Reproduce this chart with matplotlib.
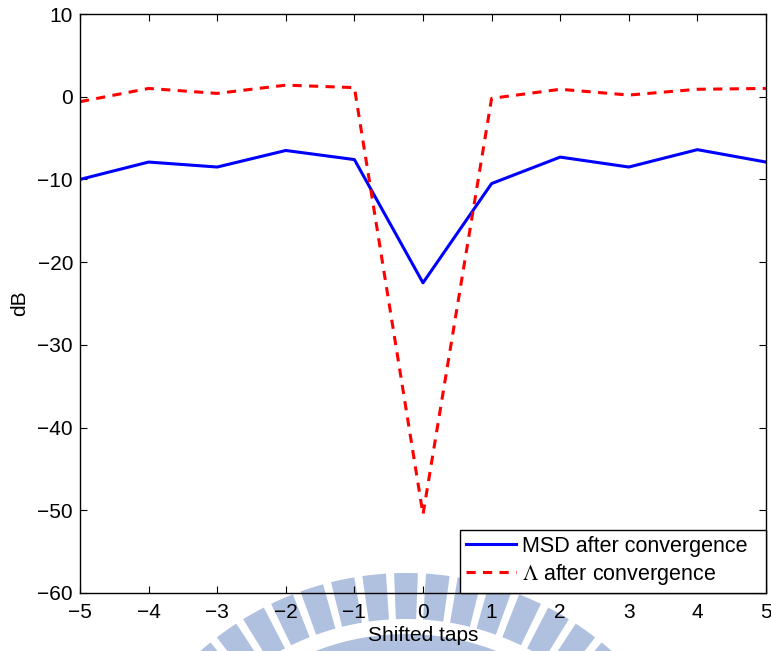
import numpy as np
import matplotlib
matplotlib.use("Agg")
import matplotlib.pyplot as plt
from matplotlib.patches import Wedge

plt.rcParams['font.family'] = ['Liberation Sans', 'DejaVu Sans']
plt.rcParams['mathtext.fontset'] = 'stix'

# ---- data ----
shifted_taps = [-5, -4, -3, -2, -1, 0, 1, 2, 3, 4, 5]
msd_db = [-10.0, -7.9, -8.5, -6.5, -7.6, -22.5, -10.5, -7.3, -8.5, -6.4, -7.9]
lambda_db = [-0.6, 1.0, 0.4, 1.4, 1.1, -50.5, -0.2, 0.9, 0.2, 0.9, 1.0]
x_ticks = [-5, -4, -3, -2, -1, 0, 1, 2, 3, 4, 5]
y_ticks = [-60, -50, -40, -30, -20, -10, 0, 10]
legend_labels = ["MSD after convergence  ", r"$\Lambda$ after convergence"]

W, H = 771, 651
fig = plt.figure(figsize=(W / 100, H / 100), dpi=100)

# ---- background watermark (decoration) ----
wm = fig.add_axes([0, 0, 1, 1], zorder=-1)
wm.set_xlim(0, W)
wm.set_ylim(H, 0)
wm.axis('off')
wm_color = '#b0c1e0'
cx, cy = 406, 883
for k in range(-9, 10):
    tc = 270 + 5.9 * k
    wm.add_patch(Wedge((cx, cy), 310, tc - 2.2, tc + 2.2, width=46,
                       facecolor=wm_color, edgecolor='none'))
wm.add_patch(Wedge((cx, cy), 249, 190, 350, width=40,
                   facecolor=wm_color, edgecolor='none'))

# ---- main axes ----
FS = 15
ax = fig.add_axes([80 / W, (H - 593) / H, (766 - 80) / W, (593 - 14) / H])
ax.set_facecolor('none')
ax.plot(shifted_taps, msd_db, color='#0000ff', lw=2.2, label=legend_labels[0])
ax.plot(shifted_taps, lambda_db, color='#ff0000', lw=2.2, ls=(0, (3.0, 2.4)),
        label=legend_labels[1])

ax.set_xlim(-5, 5)
ax.set_ylim(-60, 10)
ax.set_xticks(x_ticks)
ax.set_yticks(y_ticks)
ax.tick_params(direction='in', top=True, right=True, labelsize=FS,
               length=5, width=0.8, pad=5)
ax.tick_params(axis='x', pad=7)
for s in ax.spines.values():
    s.set_linewidth(1.0)
ax.set_xlabel("Shifted taps", fontsize=FS, labelpad=3)
ax.set_ylabel("dB", fontsize=FS, labelpad=6)

leg = ax.legend(loc='lower right', fontsize=15.5, frameon=True, fancybox=False,
                framealpha=1, edgecolor='black', borderaxespad=0.0,
                handlelength=2.3, handletextpad=0.3, borderpad=0.28,
                labelspacing=0.25)
leg.get_frame().set_linewidth(1.0)

fig.savefig("out.png", dpi=100, facecolor='white')
